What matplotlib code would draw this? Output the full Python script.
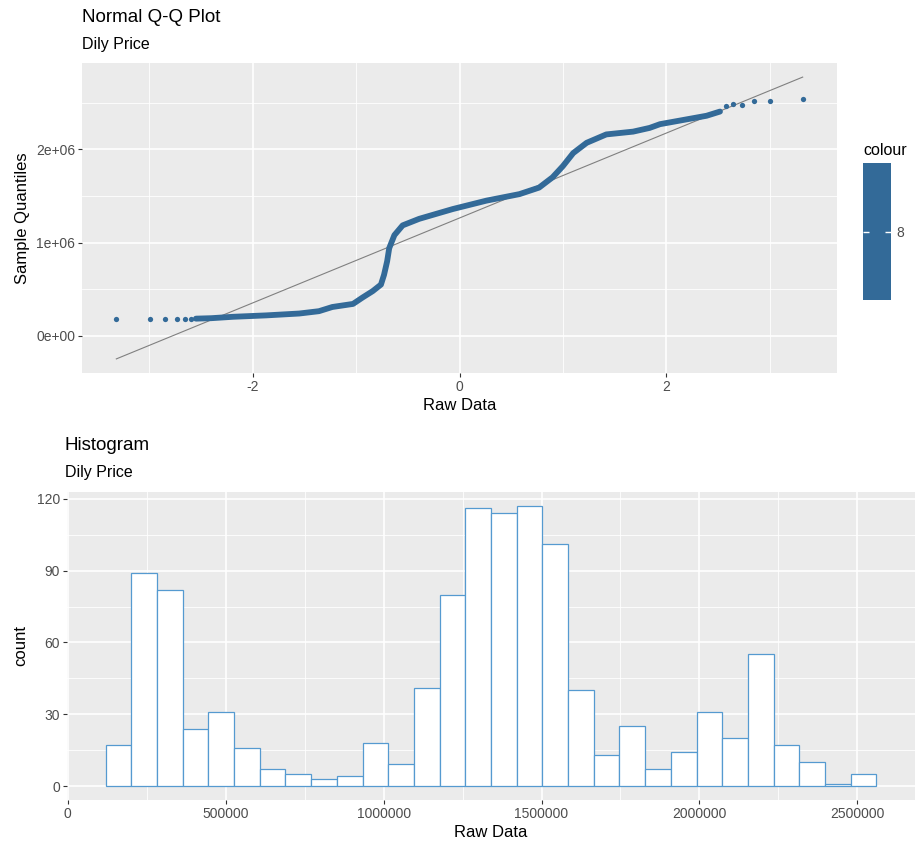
import numpy as np
import matplotlib
matplotlib.use('Agg')
import matplotlib.pyplot as plt
from matplotlib.colors import ListedColormap, Normalize
from matplotlib.cm import ScalarMappable
from matplotlib.ticker import FixedLocator, FuncFormatter

plt.rcParams['font.family'] = ['Liberation Sans', 'DejaVu Sans']
plt.rcParams['axes.unicode_minus'] = False

# Q-Q plot: theoretical quantile vs sample quantile
qq_tail_low_x = [-3.32, -2.99, -2.85, -2.73, -2.66, -2.60]
qq_tail_low_y = [177000, 177000, 177000, 178000, 180000, 182000]
qq_band_x = [-2.55, -2.40, -2.19, -1.87, -1.55, -1.36, -1.23, -1.03, -0.94, -0.84,
             -0.76, -0.73, -0.70, -0.68, -0.63, -0.55, -0.39, -0.065, 0.26, 0.58,
             0.77, 0.90, 1.00, 1.10, 1.23, 1.42, 1.68, 1.84, 1.94, 2.19, 2.39, 2.52]
qq_band_y = [185000, 190000, 205000, 220000, 240000, 265000, 310000, 343000, 410000, 480000,
             550000, 655000, 800000, 940000, 1080000, 1185000, 1255000, 1360000, 1450000, 1520000,
             1590000, 1700000, 1820000, 1960000, 2070000, 2160000, 2190000, 2230000, 2270000, 2320000, 2360000, 2405000]
qq_tail_high_x = [2.58, 2.65, 2.73, 2.85, 3.00, 3.32]
qq_tail_high_y = [2466000, 2486000, 2480000, 2520000, 2520000, 2535000]
qq_line_intercept = 1264000
qq_line_slope = 455000
colour_value = 8

# histogram (30 bins, ggplot default)
price_min = 160000
price_max = 2520000
hist_counts = [17, 89, 82, 24, 31, 16, 7, 5, 3, 4, 18, 9, 41, 80, 116,
               114, 117, 101, 40, 13, 25, 7, 14, 31, 20, 55, 17, 10, 1, 5]

POINT = '#336A98'
PANEL = '#EBEBEB'
TICK_TXT = '#4D4D4D'


def expand(lo, hi, f=0.05):
    d = (hi - lo) * f
    return lo - d, hi + d


def style_panel(ax):
    ax.set_facecolor(PANEL)
    for s in ax.spines.values():
        s.set_visible(False)
    ax.grid(which='major', color='white', lw=1.2)
    ax.grid(which='minor', color='white', lw=0.6)
    ax.set_axisbelow(True)
    ax.tick_params(which='major', length=3, width=0.8, color='#333333',
                   labelsize=10, labelcolor=TICK_TXT, pad=2)
    ax.tick_params(which='minor', length=0)


fig = plt.figure(figsize=(9.18, 8.48), dpi=100)

# ---- Q-Q plot ----
ax1 = fig.add_axes([82 / 918, 1 - 373 / 848, 755 / 918, 310 / 848])
style_panel(ax1)
all_x = qq_tail_low_x + qq_band_x + qq_tail_high_x
x_lo, x_hi = min(all_x), max(all_x)
line_x = np.array([x_lo, x_hi])
line_y = qq_line_intercept + qq_line_slope * line_x
ax1.plot(line_x, line_y, color='#808080', lw=0.8, zorder=2)
ax1.plot(qq_band_x, qq_band_y, color=POINT, lw=4.2, solid_capstyle='round',
         solid_joinstyle='round', zorder=3)
ax1.plot(qq_tail_low_x + qq_tail_high_x, qq_tail_low_y + qq_tail_high_y, 'o',
         color=POINT, ms=3.8, mec='none', zorder=3)
all_y = qq_tail_low_y + qq_band_y + qq_tail_high_y + list(line_y)
ax1.set_xlim(*expand(x_lo, x_hi))
ax1.set_ylim(*expand(min(all_y), max(all_y)))
ax1.xaxis.set_major_locator(FixedLocator([-2, 0, 2]))
ax1.xaxis.set_minor_locator(FixedLocator([-3, -1, 1, 3]))
ax1.yaxis.set_major_locator(FixedLocator([0, 1e6, 2e6]))
ax1.yaxis.set_minor_locator(FixedLocator([0.5e6, 1.5e6, 2.5e6]))
ax1.yaxis.set_major_formatter(FuncFormatter(lambda v, p: '%de+%02d' % (v / 1e6, 6) if v else '0e+00'))
ax1.set_xlabel('Raw Data', fontsize=12, labelpad=3)
ax1.set_ylabel('Sample Quantiles', fontsize=12, labelpad=4)
fig.text(82 / 918, 1 - 18 / 848, 'Normal Q-Q Plot', fontsize=13.5, va='center', ha='left')
fig.text(82 / 918, 1 - 45 / 848, 'Dily Price', fontsize=11.5, va='center', ha='left')

# colour legend
cax = fig.add_axes([863 / 918, 1 - 300 / 848, 28 / 918, 137 / 848])
sm = ScalarMappable(norm=Normalize(colour_value - 1, colour_value + 1),
                    cmap=ListedColormap([POINT]))
cb = fig.colorbar(sm, cax=cax, ticks=[colour_value])
cb.outline.set_visible(False)
cax.tick_params(length=4, width=1, color='white', direction='in',
                labelsize=10, labelcolor=TICK_TXT, pad=4, left=True)
cax.set_title('colour', fontsize=11.5, loc='left', pad=6)

# ---- histogram ----
ax2 = fig.add_axes([67 / 918, 1 - 800 / 848, 848 / 918, 308 / 848])
style_panel(ax2)
binw = (price_max - price_min) / (len(hist_counts) - 1)
edges = price_min - binw / 2 + binw * np.arange(len(hist_counts) + 1)
ax2.bar(edges[:-1], hist_counts, width=binw, align='edge', facecolor='white',
        edgecolor='#559AD0', lw=0.9, zorder=3)
ax2.set_xlim(*expand(edges[0], edges[-1]))
ax2.set_ylim(*expand(0, max(hist_counts)))
ax2.xaxis.set_major_locator(FixedLocator([0, 500000, 1000000, 1500000, 2000000, 2500000]))
ax2.xaxis.set_minor_locator(FixedLocator([250000, 750000, 1250000, 1750000, 2250000]))
ax2.yaxis.set_major_locator(FixedLocator([0, 30, 60, 90, 120]))
ax2.yaxis.set_minor_locator(FixedLocator([15, 45, 75, 105]))
ax2.xaxis.set_major_formatter(FuncFormatter(lambda v, p: '%d' % v))
ax2.set_xlabel('Raw Data', fontsize=12, labelpad=3)
ax2.set_ylabel('count', fontsize=12, labelpad=6)
fig.text(65 / 918, 1 - 445 / 848, 'Histogram', fontsize=13.5, va='center', ha='left')
fig.text(65 / 918, 1 - 473 / 848, 'Dily Price', fontsize=11.5, va='center', ha='left')

fig.savefig('out.png', dpi=100, facecolor='white')
